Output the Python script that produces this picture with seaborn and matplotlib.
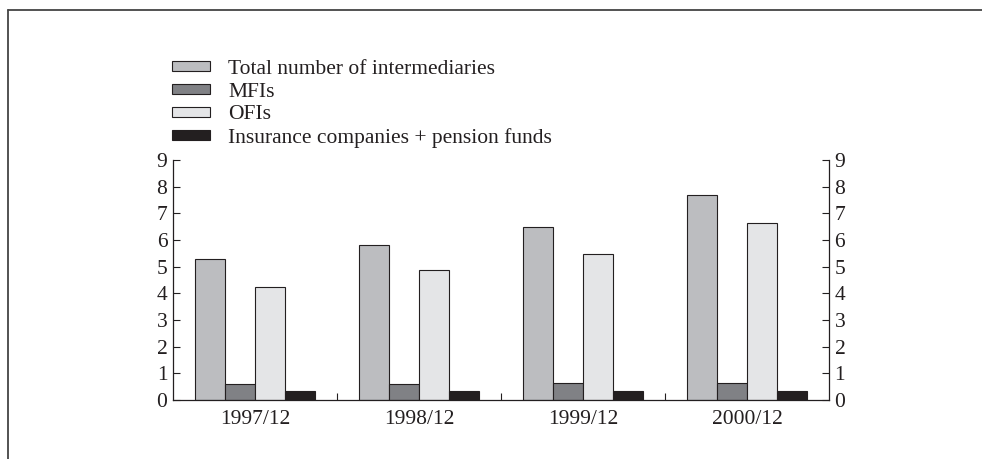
import pandas as pd
import matplotlib.pyplot as plt
import seaborn as sns
from matplotlib.lines import Line2D
from matplotlib.ticker import FixedLocator

# values
periods = ["1997/12", "1998/12", "1999/12", "2000/12"]
series = ["Total number of intermediaries", "MFIs", "OFIs",
          "Insurance companies + pension funds"]
total = [5.28, 5.81, 6.47, 7.68]
mfis = [0.59, 0.59, 0.63, 0.63]
ofis = [4.25, 4.86, 5.46, 6.63]
insurance = [0.35, 0.35, 0.35, 0.35]
colors = ["#bcbdc0", "#808185", "#e4e5e7", "#231f20"]

df = pd.DataFrame({"period": periods * 4,
                   "series": [s for s in series for _ in periods],
                   "value": total + mfis + ofis + insurance})

sns.set_style("white")
plt.rcParams["font.family"] = ["Liberation Serif", "DejaVu Serif"]
ink = "#231f20"
fs = 15.5

fig = plt.figure(figsize=(9.82, 4.59), dpi=100)
ax = fig.add_axes([0.1762, 0.1285, 0.668, 0.5229])

sns.barplot(data=df, x="period", y="value", hue="series", hue_order=series,
            palette=colors, width=0.73, edgecolor=ink, linewidth=0.8,
            saturation=1, ax=ax)

ax.set_ylim(0, 9)
ax.set_xlim(-0.5, 3.5)
ax.set_yticks(range(10))
ax.set_xlabel("")
ax.set_ylabel("")

for side in ["left", "right", "bottom"]:
    ax.spines[side].set_color(ink)
    ax.spines[side].set_linewidth(0.9)
ax.spines["top"].set_visible(False)

ax.tick_params(axis="y", which="major", left=True, right=True,
               labelleft=True, labelright=True, direction="in",
               length=5, width=0.8, color=ink, labelsize=fs,
               labelcolor=ink, pad=4)
ax.tick_params(axis="x", which="major", length=0, labelsize=fs,
               labelcolor=ink, pad=7)
ax.xaxis.set_minor_locator(FixedLocator([0.5, 1.5, 2.5]))
ax.tick_params(axis="x", which="minor", bottom=True, direction="in",
               length=5, width=0.8, color=ink)

handles, labels = ax.get_legend_handles_labels()
ax.get_legend().remove()
fig.legend(handles, labels, loc="upper left",
           bbox_to_anchor=(172 / 982, 1 - 60 / 459), frameon=False,
           fontsize=fs, handlelength=1.75, handleheight=0.35,
           handletextpad=0.85, labelspacing=0.17, borderpad=0,
           borderaxespad=0, labelcolor=ink)

# page frame lines (top and left)
fig.add_artist(Line2D([8 / 982, 1], [1 - 10 / 459, 1 - 10 / 459],
                      transform=fig.transFigure, color="#444444", lw=1.3))
fig.add_artist(Line2D([8 / 982, 8 / 982], [0, 1 - 10 / 459],
                      transform=fig.transFigure, color="#444444", lw=1.3))

fig.savefig("out.png", dpi=100)
